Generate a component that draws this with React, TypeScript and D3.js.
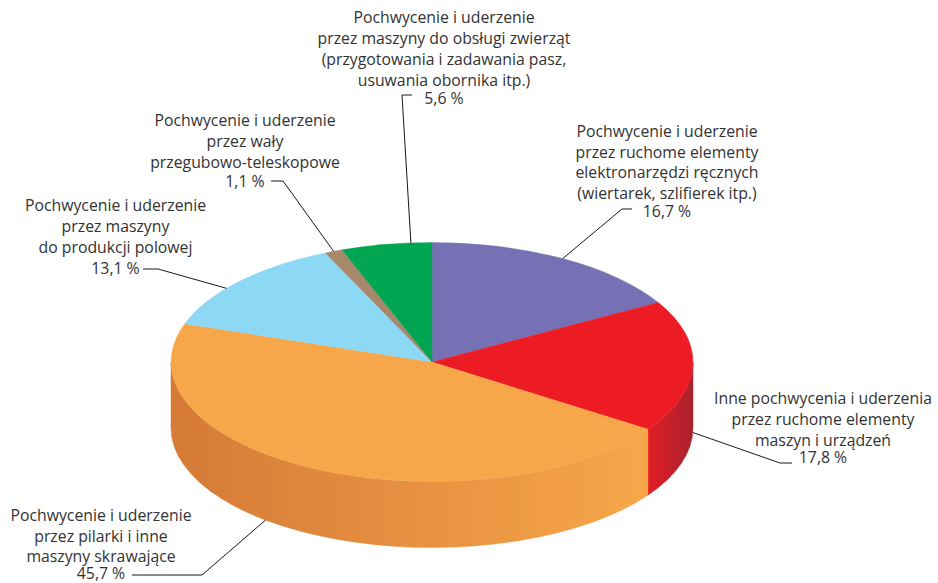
import React from "react";
import * as d3 from "d3";

// ---- data ----
const categories = [
  "elektronarzedzia",
  "inne",
  "pilarki",
  "produkcja polowa",
  "waly",
  "zwierzeta",
];
const values = [16.7, 17.8, 45.7, 13.1, 1.1, 5.6];
const valueLabels = ["16,7 %", "17,8 %", "45,7 %", "13,1 %", "1,1 %", "5,6 %"];
const labelLines = [
  [
    "Pochwycenie i uderzenie",
    "przez ruchome elementy",
    "elektronarzędzi ręcznych",
    "(wiertarek, szlifierek itp.)",
  ],
  [
    "Inne pochwycenia i uderzenia",
    "przez ruchome elementy",
    "maszyn i urządzeń",
  ],
  ["Pochwycenie i uderzenie", "przez pilarki i inne", "maszyny skrawające"],
  ["Pochwycenie i uderzenie", "przez maszyny", "do produkcji polowej"],
  ["Pochwycenie i uderzenie", "przez wały", "przegubowo-teleskopowe"],
  [
    "Pochwycenie i uderzenie",
    "przez maszyny do obsługi zwierząt",
    "(przygotowania i zadawania pasz,",
    "usuwania obornika itp.)",
  ],
];

// ---- styles / layout ----
const topColors = ["#7671b4", "#ed1c24", "#f7a64a", "#8dd8f5", "#a6896a", "#00a551"];
const sideDark = ["#5a5590", "#e41e26", "#d57a37", "#6fb3cc", "#85694f", "#00823f"];
const sideLight = ["#7671b4", "#ec1c24", "#f7a64a", "#8dd8f5", "#a6896a", "#00a551"];
const sideEdge = ["#5a5590", "#a8232e", "#d57a37", "#6fb3cc", "#85694f", "#00823f"];

const W = 938;
const H = 583;
const CX = 432;
const CY = 362;
const RX = 261;
const RY = 119.5;
const DEPTH = 66;

// label layout: centre x, baselines, anchor position along slice (0..1), anchor depth fraction, leader points
const labelLayout = [
  { x: 667, ys: [136.5, 157.5, 178, 198.5, 216.5], t: 0.5, df: 0, pts: [[632, 209], [622, 209]] },
  { x: 823, ys: [404, 425, 445.5, 463], t: 0.5, df: 1, pts: [[792, 463], [780, 463]] },
  { x: 101, ys: [520.5, 541.5, 562, 579], t: 0.58, df: 1, pts: [[132, 575], [202, 575]] },
  { x: 115.5, ys: [210.5, 231.5, 252.5, 274], t: 0.41, df: 0, pts: [[143, 269], [158, 269]] },
  { x: 245, ys: [125.5, 146.5, 167.5, 187], t: 0.5, df: 0, pts: [[271, 181], [283, 181]] },
  { x: 444, ys: [23, 44, 65, 86, 103.5], t: 0.77, df: 0, pts: [[412, 95], [402, 95]] },
];

const FONT = "'Open Sans', 'DejaVu Sans', sans-serif";
const FONT_SIZE = 15.8;
const TEXT_COLOR = "#333333";

function pt(a: number, dy = 0): [number, number] {
  return [CX + RX * Math.sin(a), CY - RY * Math.cos(a) + dy];
}

export default function App() {
  const pie = d3
    .pie<number>()
    .sort(null)
    .value((d) => d);
  const arcs = pie(values);

  const topPath = (a0: number, a1: number) => {
    const p0 = pt(a0);
    const p1 = pt(a1);
    const large = a1 - a0 > Math.PI ? 1 : 0;
    return `M${CX},${CY}L${p0[0]},${p0[1]}A${RX},${RY} 0 ${large} 1 ${p1[0]},${p1[1]}Z`;
  };

  const sidePath = (a0: number, a1: number) => {
    const s = Math.max(a0, Math.PI / 2);
    const e = Math.min(a1, (3 * Math.PI) / 2);
    if (e <= s) return null;
    const p0 = pt(s);
    const p1 = pt(e);
    const q1 = pt(e, DEPTH);
    const q0 = pt(s, DEPTH);
    return `M${p0[0]},${p0[1]}A${RX},${RY} 0 0 1 ${p1[0]},${p1[1]}L${q1[0]},${q1[1]}A${RX},${RY} 0 0 0 ${q0[0]},${q0[1]}Z`;
  };

  const line = d3.line();

  return (
    <div style={{ position: "absolute", left: 0, top: 0 }}>
      <svg width={W} height={H} viewBox={`0 0 ${W} ${H}`} style={{ display: "block", background: "#fff" }}>
        <defs>
          {arcs.map((a, i) => (
            <linearGradient
              key={i}
              id={`side${i}`}
              gradientUnits="userSpaceOnUse"
              x1={CX - RX}
              y1={0}
              x2={CX + RX}
              y2={0}
            >
              <stop offset="0" stopColor={sideDark[i]} />
              <stop offset="0.9" stopColor={sideLight[i]} />
              <stop offset="1" stopColor={sideEdge[i]} />
            </linearGradient>
          ))}
        </defs>
        <g>
          {arcs.map((a, i) => {
            const d = sidePath(a.startAngle, a.endAngle);
            return d ? <path key={i} d={d} fill={`url(#side${i})`} stroke={`url(#side${i})`} strokeWidth={0.5} /> : null;
          })}
        </g>
        <g>
          {arcs.map((a, i) => (
            <path key={i} d={topPath(a.startAngle, a.endAngle)} fill={topColors[i]} stroke={topColors[i]} strokeWidth={0.4} />
          ))}
        </g>
        <g fill="none" stroke="#1a1a1a" strokeWidth={1}>
          {arcs.map((a, i) => {
            const L = labelLayout[i];
            const ang = a.startAngle + (a.endAngle - a.startAngle) * L.t;
            const anchor = pt(ang, DEPTH * L.df);
            const pts = [...L.pts, anchor] as [number, number][];
            return <path key={i} d={line(pts) || ""} />;
          })}
        </g>
        <g fontFamily={FONT} fontSize={FONT_SIZE} fill={TEXT_COLOR} textAnchor="middle">
          {categories.map((c, i) => {
            const L = labelLayout[i];
            const lines = [...labelLines[i], valueLabels[i]];
            return (
              <text key={c}>
                {lines.map((s, j) => (
                  <tspan key={j} x={L.x} y={L.ys[j]}>
                    {s}
                  </tspan>
                ))}
              </text>
            );
          })}
        </g>
      </svg>
    </div>
  );
}
